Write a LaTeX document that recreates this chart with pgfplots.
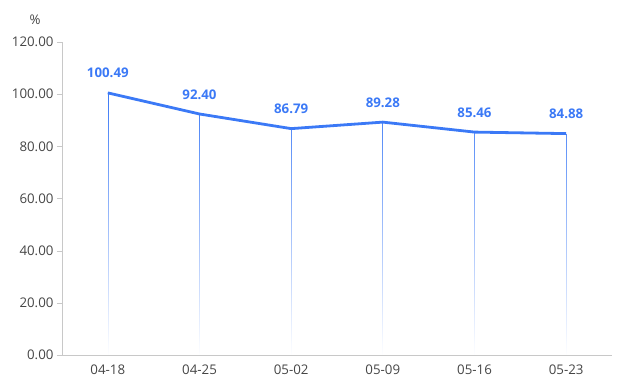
\documentclass[border=0pt]{standalone}
\usepackage{pgfplots}
\pgfplotsset{compat=1.18}
\usepackage{fontspec}
\setmainfont{Open Sans}
\usetikzlibrary{fadings}
\definecolor{mainblue}{RGB}{59,121,246}
\definecolor{axisgray}{RGB}{200,200,200}
\definecolor{ticktext}{RGB}{70,70,70}
\tikzfading[name=dropfade, top color=transparent!0, bottom color=transparent!100]
\begin{document}
\begin{tikzpicture}
\useasboundingbox (-62pt,-36pt) rectangle (565pt,355pt);
\begin{axis}[
  at={(0,0)}, anchor=south west,
  scale only axis, width=550pt, height=313pt,
  xmin=-0.5, xmax=5.5, ymin=0, ymax=120,
  ytick={0,20,40,60,80,100,120},
  xtick={0,1,2,3,4,5},
  xticklabels={04-18,04-25,05-02,05-09,05-16,05-23},
  extra x ticks={-0.5,0.5,1.5,2.5,3.5,4.5,5.5},
  extra x tick labels={},
  extra x tick style={major tick length=5pt, tick style={draw=axisgray}},
  axis x line*=bottom, axis y line*=left,
  x axis line style={draw=axisgray, -},
  y axis line style={draw=axisgray, -},
  xtick style={draw=none},
  ytick style={draw=axisgray},
  major tick length=5pt,
  tick align=outside,
  /pgf/number format/assume math mode=true,
  yticklabel style={/pgf/number format/.cd, fixed, fixed zerofill, precision=2},
  ticklabel style={font=\fontsize{13.3}{15}\selectfont, text=ticktext},
  xticklabel style={yshift=-1pt},
  clip=false,
]
\addplot[ycomb, draw=mainblue, line width=0.6pt, path fading=dropfade, mark=none]
  coordinates {(0,100.49) (1,92.40) (2,86.79) (3,89.28) (4,85.46) (5,84.88)};
\addplot[draw=mainblue, line width=2.8pt, mark=none, line join=round,
  nodes near coords={\textbf{\pgfplotspointmeta}},
  point meta=explicit symbolic,
  every node near coord/.append style={font=\fontsize{13.3}{15}\selectfont, text=mainblue, yshift=10pt}]
  coordinates {(0,100.49)[100.49] (1,92.40)[92.40] (2,86.79)[86.79] (3,89.28)[89.28] (4,85.46)[85.46] (5,84.88)[84.88]};
\node[font=\fontsize{13.3}{15}\selectfont, text=ticktext] at ([xshift=-27pt,yshift=22pt]rel axis cs:0,1) {\%};
\end{axis}
\end{tikzpicture}
\end{document}
